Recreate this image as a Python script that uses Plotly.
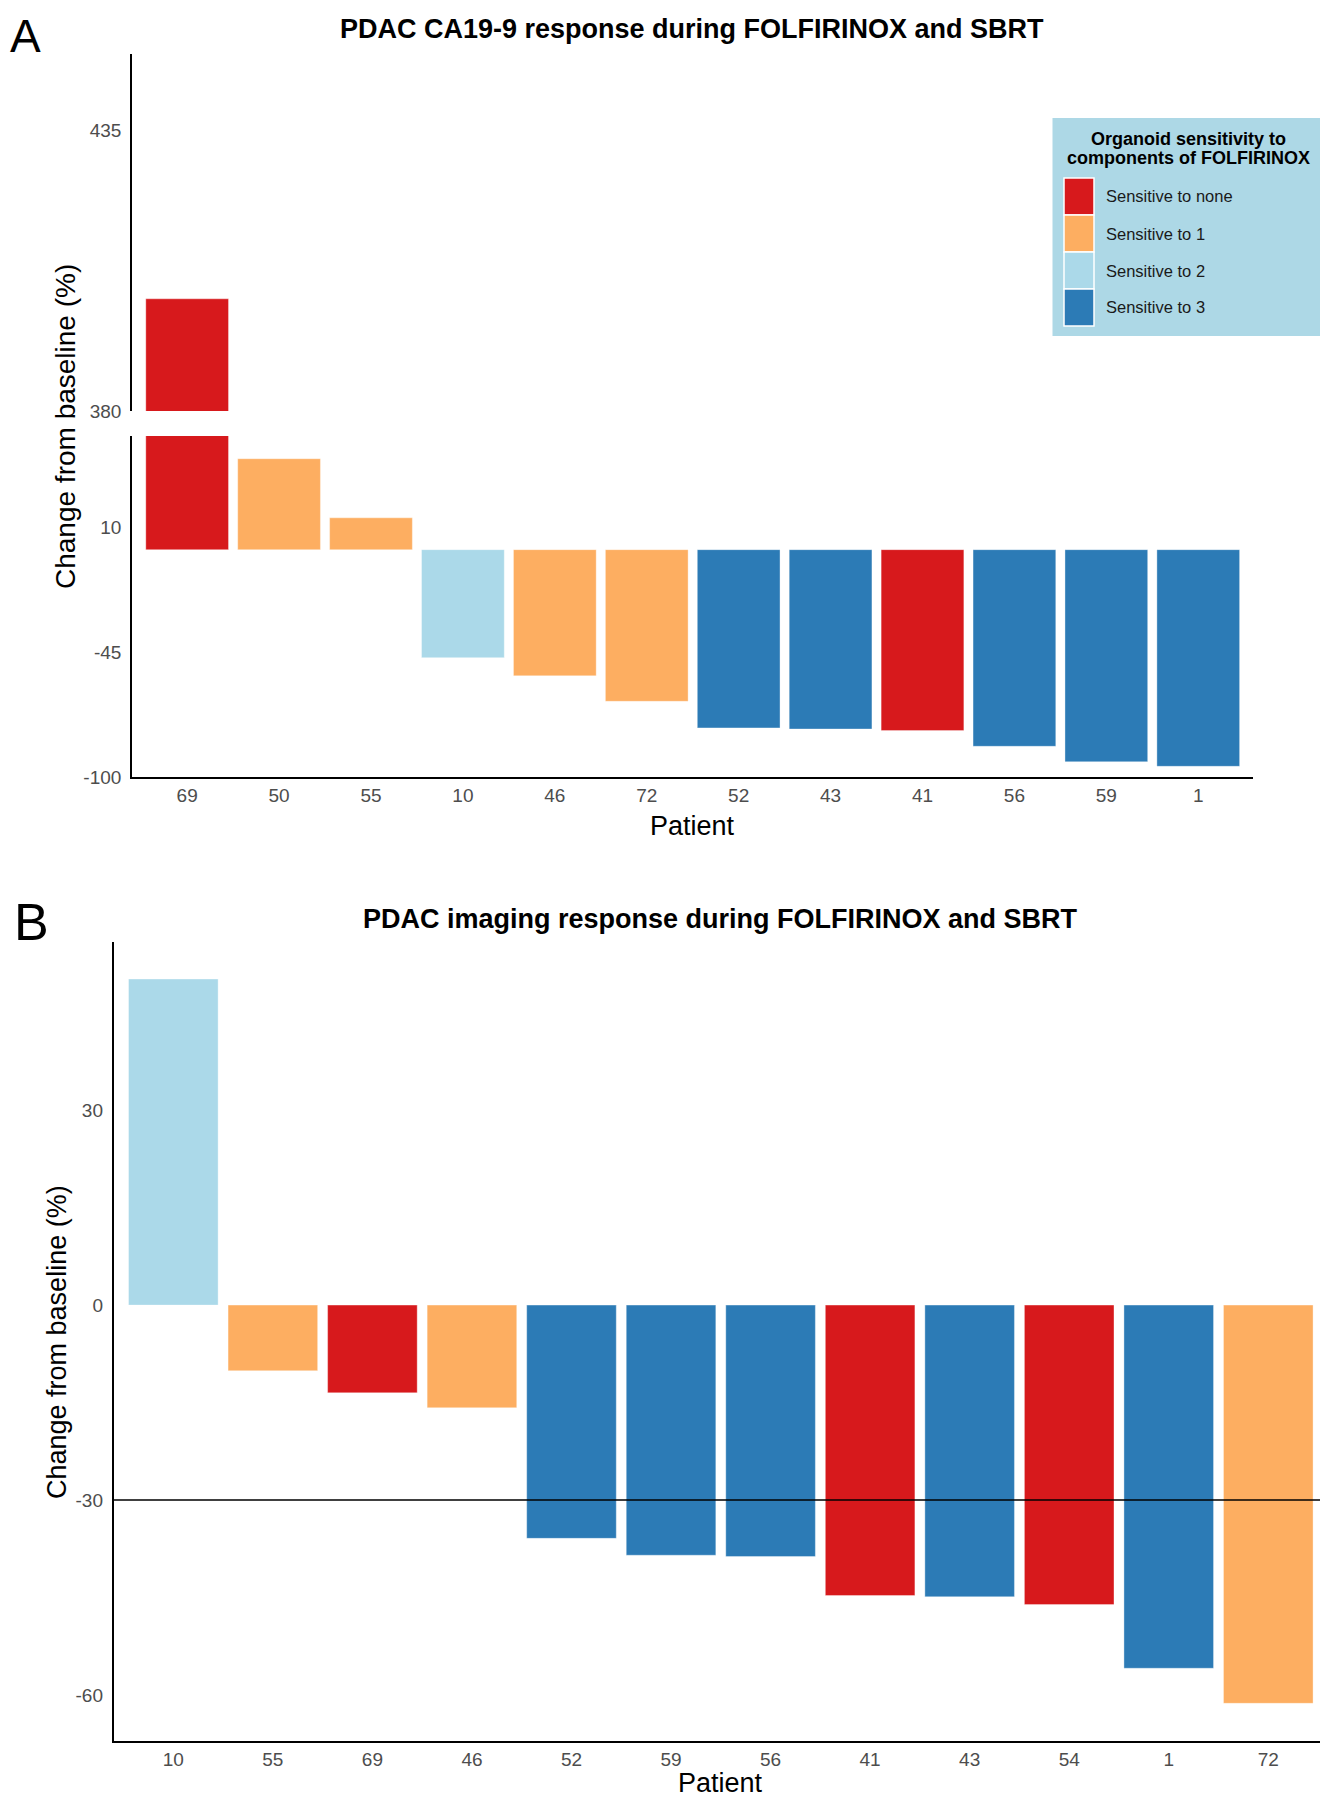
import plotly.graph_objects as go

# page is 1328x1800; the html body adds an 8px margin, so the figure is sized to fit
OFF = 8
W, H = 1328 - OFF, 1800 - OFF

# ---------------- data ----------------
groups = ["Sensitive to none", "Sensitive to 1", "Sensitive to 2", "Sensitive to 3"]
group_colors = ["#D7191C", "#FDAE61", "#ABD9E9", "#2C7BB6"]

ca_patients = ["69", "50", "55", "10", "46", "72", "52", "43", "41", "56", "59", "1"]
ca_change = [402, 40, 14, -47.5, -55.5, -66.7, -78.4, -78.9, -79.6, -86.5, -93.3, -95.3]
ca_group = [0, 1, 1, 2, 1, 1, 3, 3, 0, 3, 3, 3]

img_patients = ["10", "55", "69", "46", "52", "59", "56", "41", "43", "54", "1", "72"]
img_change = [50.2, -10.1, -13.5, -15.8, -35.9, -38.5, -38.7, -44.7, -44.9, -46.1, -55.9, -61.3]
img_group = [2, 1, 0, 1, 3, 3, 3, 0, 3, 0, 3, 1]

ca_ticks_low = [-100, -45, 10]
ca_ticks_high = [380, 435]
img_ticks = [-60, -30, 0, 30]
response_threshold = -30

title_a = "PDAC CA19-9 response during FOLFIRINOX and SBRT"
title_b = "PDAC imaging response during FOLFIRINOX and SBRT"
legend_title = ["Organoid sensitivity to", "components of FOLFIRINOX"]
y_title = "Change from baseline (%)"
x_title = "Patient"

# ---------------- helpers ----------------
FONT = "Liberation Sans, Arial, Helvetica, sans-serif"
TICK_FONT = dict(family=FONT, size=19, color="#4D4D4D")


def px(x):
    """page pixel x -> paper fraction"""
    return (x - OFF) / W


def py(y):
    """page pixel y -> paper fraction"""
    return 1 - (y - OFF) / H


def labels(vals):
    return [str(v) for v in vals]


ca_colors = [group_colors[g] for g in ca_group]
img_colors = [group_colors[g] for g in img_group]

fig = go.Figure()

bar_style = dict(width=0.9, marker_line_width=0.6, marker_line_color="rgba(255,255,255,0.6)",
                 showlegend=False, hoverinfo="x+y")

# Panel A lower segment
fig.add_trace(go.Bar(x=ca_patients, y=ca_change, marker_color=ca_colors,
                     xaxis="x", yaxis="y", **bar_style))
# Panel A upper segment (broken axis)
fig.add_trace(go.Bar(x=ca_patients, y=ca_change, marker_color=ca_colors,
                     xaxis="x3", yaxis="y3", **bar_style))
# Panel B
fig.add_trace(go.Bar(x=img_patients, y=img_change, marker_color=img_colors,
                     xaxis="x2", yaxis="y2", **bar_style))

common_x = dict(type="category", showgrid=False, zeroline=False, ticks="",
                tickfont=TICK_FONT, ticklabelstandoff=0, automargin=False)
common_y = dict(showgrid=False, zeroline=False, ticks="", tickfont=TICK_FONT,
                ticklabelstandoff=5, showline=True, linecolor="black", linewidth=1.6,
                automargin=False)

xa_dom = [px(132), px(1253.4)]
n_a = len(ca_patients)
n_b = len(img_patients)
fig.update_layout(
    width=W, height=H,
    margin=dict(l=0, r=0, t=0, b=0, autoexpand=False),
    paper_bgcolor="white", plot_bgcolor="white",
    barmode="overlay",
    font=dict(family=FONT),
    xaxis=dict(domain=xa_dom, anchor="y", categoryorder="array", categoryarray=ca_patients,
               range=[-0.6, n_a - 0.4],
               showline=True, linecolor="black", linewidth=2.2, **common_x),
    yaxis=dict(domain=[py(777), py(436)], anchor="x", range=[-100, 50],
               tickvals=ca_ticks_low, ticktext=labels(ca_ticks_low), **common_y),
    xaxis3=dict(domain=xa_dom, anchor="y3", categoryorder="array", categoryarray=ca_patients,
                range=[-0.6, n_a - 0.4],
                showline=False, showticklabels=False, **common_x),
    yaxis3=dict(domain=[py(411), py(54)], anchor="x3", range=[380, 450],
                tickvals=ca_ticks_high, ticktext=labels(ca_ticks_high), **common_y),
    xaxis2=dict(domain=[px(113.6), 1.0], anchor="y2", categoryorder="array",
                categoryarray=img_patients, range=[-0.6, n_b - 0.4],
                showline=True, linecolor="black", linewidth=2.2, **common_x),
    yaxis2=dict(domain=[py(1741), py(942)], anchor="x2", range=[-67.1, 55.9],
                tickvals=img_ticks, ticktext=labels(img_ticks), **common_y),
)

# response threshold line in panel B
fig.add_shape(type="line", xref="x2 domain", x0=0, x1=1, yref="y2",
              y0=response_threshold, y1=response_threshold,
              line=dict(color="black", width=1.6))

ann = []
# panel letters
ann.append(dict(text="A", x=0.0, xanchor="left", y=1.0, yanchor="top",
                font=dict(size=46, color="black", family="Liberation Sans Narrow, " + FONT)))
ann.append(dict(text="B", x=px(31), y=py(922), font=dict(size=52, color="black",
                family="Liberation Sans Narrow, " + FONT)))
# titles
ann.append(dict(text="<b>%s</b>" % title_a, x=px(692), y=py(29),
                font=dict(size=27, color="black")))
ann.append(dict(text="<b>%s</b>" % title_b, x=px(720), y=py(919),
                font=dict(size=27, color="black")))
# axis titles
ann.append(dict(text=y_title, x=px(65), y=py(427), textangle=-90,
                font=dict(size=28, color="black")))
ann.append(dict(text=y_title, x=px(57), y=py(1342), textangle=-90,
                font=dict(size=27, color="black")))
ann.append(dict(text=x_title, x=px(692), y=py(826), font=dict(size=27, color="black")))
ann.append(dict(text=x_title, x=px(720), y=0.0, yanchor="bottom",
                font=dict(size=27, color="black")))

# custom legend (ggplot style)
fig.add_shape(type="rect", xref="paper", yref="paper", x0=px(1052.5), x1=px(1326),
              y0=py(336), y1=py(118), fillcolor="#ADD8E6", line=dict(width=0), layer="below")
ann.append(dict(text="<b>%s</b>" % legend_title[0], x=px(1188.5), y=py(139),
                font=dict(size=18, color="black")))
ann.append(dict(text="<b>%s</b>" % legend_title[1], x=px(1188.5), y=py(158),
                font=dict(size=18, color="black")))
key_top, key_h = 178, 37
for i, (g, c) in enumerate(zip(groups, group_colors)):
    y0 = key_top + i * key_h
    fig.add_shape(type="rect", xref="paper", yref="paper", x0=px(1064), x1=px(1094),
                  y0=py(y0 + key_h), y1=py(y0), fillcolor=c,
                  line=dict(color="white", width=1.5))
    ann.append(dict(text=g, x=px(1104), y=py(y0 + key_h / 2), xanchor="left",
                    font=dict(size=16.5, color="#1A1A1A")))

for a in ann:
    a.setdefault("xref", "paper")
    a.setdefault("yref", "paper")
    a.setdefault("showarrow", False)
    a.setdefault("xanchor", "center")
    a.setdefault("yanchor", "middle")
fig.update_layout(annotations=ann)

fig.write_html("out.html")
